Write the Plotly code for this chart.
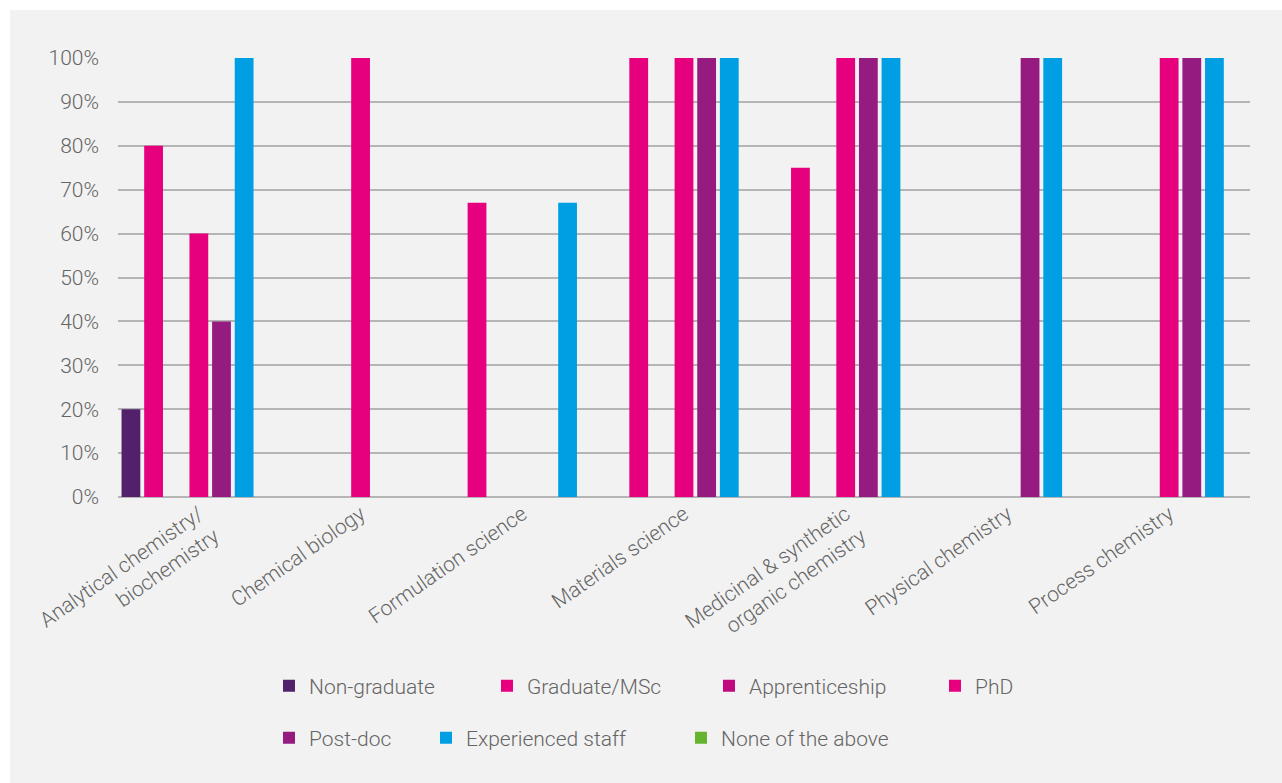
import plotly.graph_objects as go

# Survey categories (x axis)
categories = [
    "Analytical chemistry/<br>biochemistry",
    "Chemical biology",
    "Formulation science",
    "Materials science",
    "Medicinal & synthetic<br>organic chemistry",
    "Physical chemistry",
    "Process chemistry",
]

# Share of respondents recruiting at each level (fractions)
non_graduate = [0.20, 0, 0, 0, 0, 0, 0]
graduate_msc = [0.80, 0, 0.67, 1.00, 0.75, 0, 0]
apprenticeship = [0, 0, 0, 0, 0, 0, 0]
phd = [0.60, 1.00, 0, 1.00, 1.00, 0, 1.00]
post_doc = [0.40, 0, 0, 1.00, 1.00, 1.00, 1.00]
experienced_staff = [1.00, 0, 0.67, 1.00, 1.00, 1.00, 1.00]
none_of_above = [0, 0, 0, 0, 0, 0, 0]

y_ticks = [0, 0.1, 0.2, 0.3, 0.4, 0.5, 0.6, 0.7, 0.8, 0.9, 1.0]
y_tick_text = ["0%", "10%", "20%", "30%", "40%", "50%", "60%", "70%", "80%", "90%", "100%"]

series = [
    ("Non-graduate", non_graduate, "#53206b"),
    ("Graduate/MSc", graduate_msc, "#e6007e"),
    ("Apprenticeship", apprenticeship, "#c0087f"),
    ("PhD", phd, "#e6007e"),
    ("Post-doc", post_doc, "#951b81"),
    ("Experienced staff", experienced_staff, "#009fe3"),
    ("None of the above", none_of_above, "#65b32e"),
]

FONT = "Roboto"
GREY_TEXT = "#656565"
TICK_SIZE = 21
LEGEND_SIZE = 21

# figure geometry (pixels) used to place the legend rows
W, H = 1282, 783
L, R, T, B = 118, 32, 58, 286
pw, ph = W - L - R, H - T - B


def px_x(px):
    return (px - L) / pw


def px_y(py):
    return (H - B - py) / ph


fig = go.Figure()
legend_names = ["legend", "legend2", "legend3", "legend4", "legend5", "legend6", "legend7"]
for (name, vals, color), lg in zip(series, legend_names):
    fig.add_trace(go.Bar(
        name=name, x=categories, y=vals,
        marker=dict(color=color, line=dict(width=0)),
        legend=lg,
        hovertemplate="%{x}: %{y:.0%}<extra>" + name + "</extra>",
    ))

# one legend per entry so the two rows sit like the printed key
legend_pos = [(269, 686), (487, 686), (709, 686), (935, 686),
              (269, 738), (426, 738), (681, 738)]
legend_layout = {}
for lg, (lx, ly) in zip(legend_names, legend_pos):
    legend_layout[lg] = dict(
        x=px_x(lx), y=px_y(ly), xanchor="left", yanchor="middle",
        orientation="h", bgcolor="rgba(0,0,0,0)", borderwidth=0,
        font=dict(family=FONT, size=LEGEND_SIZE, color=GREY_TEXT, weight=300),
    )

fig.update_layout(
    width=W, height=H,
    margin=dict(l=L, r=R, t=T, b=B, autoexpand=False),
    paper_bgcolor="#f2f2f2",
    plot_bgcolor="#f2f2f2",
    barmode="group",
    bargap=0.02,
    bargroupgap=0.17,
    showlegend=True,
    font=dict(family=FONT, size=TICK_SIZE, color=GREY_TEXT, weight=300),
    xaxis=dict(
        showgrid=False, zeroline=False, showline=False,
        tickangle=-35, ticks="",
        tickfont=dict(family=FONT, size=TICK_SIZE, color=GREY_TEXT, weight=300),
    ),
    yaxis=dict(
        range=[0, 1.0], tickvals=y_ticks, ticktext=y_tick_text,
        showgrid=True, gridcolor="#b5b5b5", gridwidth=1.5,
        zeroline=True, zerolinecolor="#b5b5b5", zerolinewidth=1.5,
        showline=False, ticks="", ticklabelstandoff=18,
        tickfont=dict(family=FONT, size=TICK_SIZE, color=GREY_TEXT, weight=300),
    ),
    shapes=[
        # white frame strips along the top and left edges
        dict(type="rect", xref="paper", yref="paper",
             x0=px_x(0), x1=px_x(W), y0=px_y(10), y1=px_y(0),
             fillcolor="white", line=dict(width=0), layer="above"),
        dict(type="rect", xref="paper", yref="paper",
             x0=px_x(0), x1=px_x(10), y0=px_y(H), y1=px_y(0),
             fillcolor="white", line=dict(width=0), layer="above"),
    ],
    **legend_layout,
)

fig.write_html("out.html")
